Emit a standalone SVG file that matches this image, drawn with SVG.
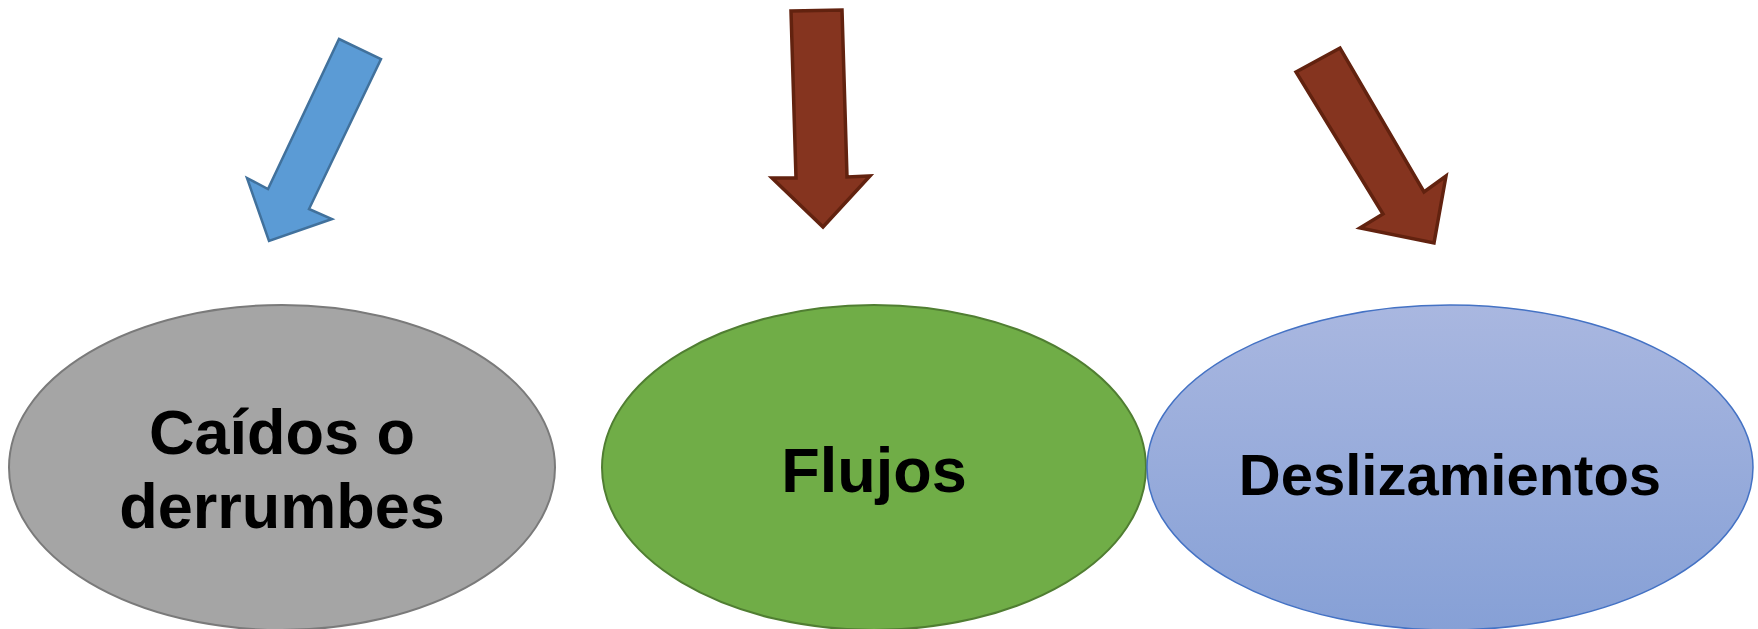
<svg xmlns="http://www.w3.org/2000/svg" width="1758" height="629" viewBox="0 0 1758 629">
  <style>
    .lbl { font-family: "Liberation Sans", Arial, sans-serif; font-weight: bold; fill: #000; text-anchor: middle; }
    .arrow-blue { fill: #5B9BD5; stroke: #41719C; stroke-width: 2.5; stroke-linejoin: miter; }
    .arrow-brown { fill: #85341F; stroke: #62220F; stroke-width: 3.5; stroke-linejoin: miter; }
  </style>
  <defs>
    <linearGradient id="blueGrad" x1="0" y1="0" x2="0" y2="1">
      <stop offset="0" stop-color="#A9B7E0"/>
      <stop offset="1" stop-color="#86A0D6"/>
    </linearGradient>
  </defs>
  <rect width="1758" height="629" fill="#FFFFFF"/>

  <g id="connectors">
    <polygon class="arrow-blue" points="339,39 381,59 309,209 332,219 269,241 247,178 268,189"/>
    <polygon class="arrow-brown" points="791,11 842,10 847,177 870,176 823,227 772,178 796,178"/>
    <polygon class="arrow-brown" points="1296,72 1340,48 1424,192 1446,176 1434,243 1360,228 1383,214"/>
  </g>

  <g id="node-caidos">
    <ellipse cx="282" cy="467.5" rx="273" ry="162.5" fill="#A5A5A5" stroke="#7A7A7A" stroke-width="2"/>
    <text class="lbl" x="282" y="454" font-size="63">Caídos o</text>
    <text class="lbl" x="282" y="528" font-size="63">derrumbes</text>
  </g>

  <g id="node-flujos">
    <ellipse cx="874" cy="467.5" rx="272" ry="162.5" fill="#70AD47" stroke="#507E32" stroke-width="2"/>
    <text class="lbl" x="874" y="492" font-size="63">Flujos</text>
  </g>

  <g id="node-deslizamientos">
    <ellipse cx="1450" cy="467.5" rx="303" ry="162.5" fill="url(#blueGrad)" stroke="#4472C4" stroke-width="1.5"/>
    <text class="lbl" x="1450" y="495" font-size="58">Deslizamientos</text>
  </g>
</svg>
